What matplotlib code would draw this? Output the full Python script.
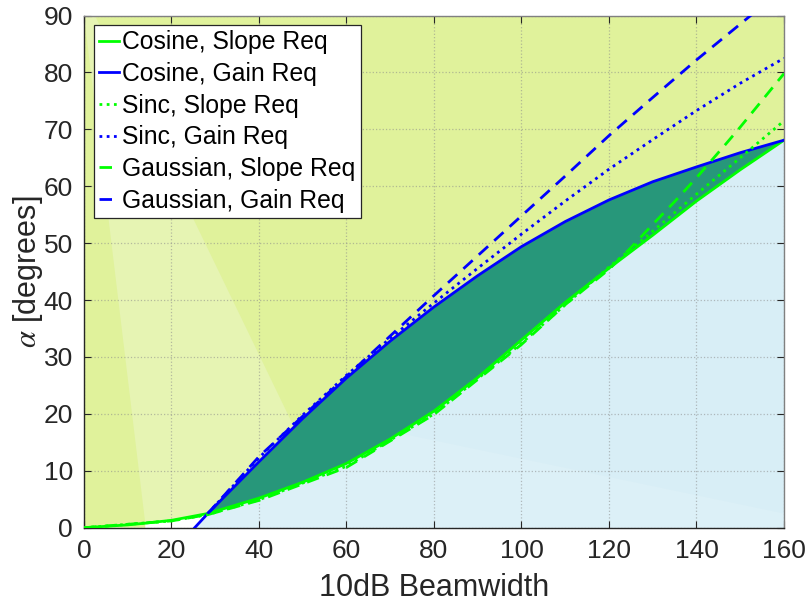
import matplotlib
matplotlib.use("Agg")
import matplotlib.pyplot as plt
import numpy as np

plt.rcParams['font.family'] = ['Liberation Sans', 'DejaVu Sans']
plt.rcParams['mathtext.fontset'] = 'stix'

# curves (x = 10dB beamwidth, y = alpha in degrees)
cos_slope_x = [0, 10, 14, 20, 28.3, 40, 50, 60, 70, 80, 90, 100, 110, 120, 130, 140, 150, 160]
cos_slope_y = [0, 0.5, 0.8, 1.3, 2.5, 5.2, 8.0, 11.3, 15.6, 20.5, 26.4, 33.0, 39.6, 45.6, 51.4, 57.4, 62.9, 68.1]

cos_gain_x = [25.3, 28.3, 40, 50, 60, 70, 80, 90, 100, 110, 120, 130, 140, 150, 160]
cos_gain_y = [0, 2.5, 11.6, 19.2, 26.3, 32.8, 38.8, 44.3, 49.4, 53.8, 57.6, 60.8, 63.4, 65.9, 68.1]

sinc_slope_x = [0, 20, 28.3, 40, 60, 80, 100, 110, 120, 130, 140, 150, 160]
sinc_slope_y = [0, 1.2, 2.3, 4.9, 10.8, 20.0, 32.4, 39.2, 45.8, 52.1, 58.6, 65.0, 71.5]

sinc_gain_x = [28.3, 40, 50, 60, 70, 80, 90, 100, 110, 120, 130, 140, 150, 160]
sinc_gain_y = [2.5, 12.3, 19.8, 26.8, 33.3, 39.5, 45.6, 51.6, 57.4, 63.0, 68.2, 73.3, 78.1, 82.5]

gauss_slope_x = [0, 20, 28.3, 40, 60, 80, 100, 110, 120, 125, 130, 135, 140, 146.9, 150, 160]
gauss_slope_y = [0, 1.2, 2.3, 4.8, 10.6, 19.9, 32.2, 39.2, 45.4, 49.2, 53.3, 57.3, 61.5, 67.6, 70.4, 79.8]

gauss_gain_x = [28.3, 40, 50, 60, 70, 80, 90, 100, 110, 120, 130, 140, 150, 153]
gauss_gain_y = [2.5, 12.5, 19.6, 26.6, 33.7, 40.8, 47.8, 54.8, 61.8, 68.9, 75.6, 82.2, 88.5, 90.4]

x_ticks = [0, 20, 40, 60, 80, 100, 120, 140, 160]
y_ticks = [0, 10, 20, 30, 40, 50, 60, 70, 80, 90]

yellow = '#E0F29B'
yellow_light = '#E6F4B3'
light_blue = '#D8EEF6'
light_blue2 = '#DCF0F7'
dark_green = '#27977A'

fig = plt.figure(figsize=(8.1, 6.07), dpi=100)
ax = fig.add_axes([0.1037, 0.1306, 0.8642, 0.8438])

# split the curves at the crossing point
cs_x = np.array(cos_slope_x); cs_y = np.array(cos_slope_y)
cg_x = np.array(cos_gain_x); cg_y = np.array(cos_gain_y)
low = (cs_x >= 14) & (cs_x <= 28.3)
high = cs_x >= 28.3
up = cg_x >= 28.3

# yellow region above both curves
yx = [0, 14] + list(cs_x[low]) + list(cg_x[up][1:]) + [160, 0]
yy = [0, 0] + list(cs_y[low]) + list(cg_y[up][1:]) + [90, 90]
ax.fill(yx, yy, color=yellow, lw=0, zorder=1)

# lighter wedge (fan artefact of the original)
wx = [0] + list(cs_x[low]) + [40, 48, 2.5]
wy = [90] + list(cs_y[low]) + [11.6, 17.7, 90]
ax.fill(wx, wy, color=yellow_light, lw=0, zorder=1)

# light blue region below
bx = [25.3] + list(cs_x[high]) + [160]
by = [0] + list(cs_y[high]) + [0]
ax.fill(bx, by, color=light_blue, lw=0, zorder=1)
part = (cs_x >= 28.3) & (cs_x <= 70)
lx = [72.2, 160, 160, 25.3] + list(cs_x[part])
ly = [16.6, 2.5, 0, 0] + list(cs_y[part])
ax.fill(lx, ly, color=light_blue2, lw=0, zorder=1)

# dark green band between the cosine curves
gx = list(cg_x[up]) + list(cs_x[high][::-1])
gy = list(cg_y[up]) + list(cs_y[high][::-1])
ax.fill(gx, gy, color=dark_green, lw=0, zorder=1.6)

lw = 2
dot = (0, (1, 1.6))
dash = (0, (4.5, 3))
ax.plot(cos_slope_x, cos_slope_y, color='#00FF00', lw=lw, label='Cosine, Slope Req', zorder=3)
ax.plot(cos_gain_x, cos_gain_y, color='#0000FF', lw=lw, label='Cosine, Gain Req', zorder=3)
ax.plot(sinc_slope_x, sinc_slope_y, color='#00FF00', lw=lw, ls=dot, label='Sinc, Slope Req', zorder=3)
ax.plot(sinc_gain_x, sinc_gain_y, color='#0000FF', lw=lw, ls=dot, label='Sinc, Gain Req', zorder=3)
ax.plot(gauss_slope_x, gauss_slope_y, color='#00FF00', lw=lw, ls=dash,
        label='Gaussian, Slope Req', zorder=3)
ax.plot(gauss_gain_x, gauss_gain_y, color='#0000FF', lw=lw, ls=dash,
        label='Gaussian, Gain Req', zorder=3)

ax.set_xlim(0, 160)
ax.set_ylim(0, 90)
ax.set_xticks(x_ticks)
ax.set_yticks(y_ticks)
ax.set_axisbelow('line')
ax.grid(True, ls=':', color='#8a8a8a', lw=0.9, alpha=0.55)
ax.tick_params(direction='in', labelsize=19, colors='#262626', top=True, right=True,
               length=5, width=0.8, pad=8)
for s in ax.spines.values():
    s.set_color('#808080')
    s.set_linewidth(1)
ax.spines['bottom'].set_color('#262626')
ax.spines['left'].set_color('#262626')

ax.set_xlabel('10dB Beamwidth', fontsize=22, color='#262626', labelpad=7)
ax.set_ylabel(r'$\alpha$ [degrees]', fontsize=22, color='#262626', labelpad=-1)

leg = ax.legend(loc='upper left', fontsize=17.8, handlelength=0.8, handletextpad=0.15,
                borderpad=0.2, labelspacing=0.31, borderaxespad=0.4,
                fancybox=False, framealpha=1, edgecolor='#262626')
leg.get_frame().set_linewidth(0.9)
leg.set_zorder(5)

fig.savefig('out.png', dpi=100)
